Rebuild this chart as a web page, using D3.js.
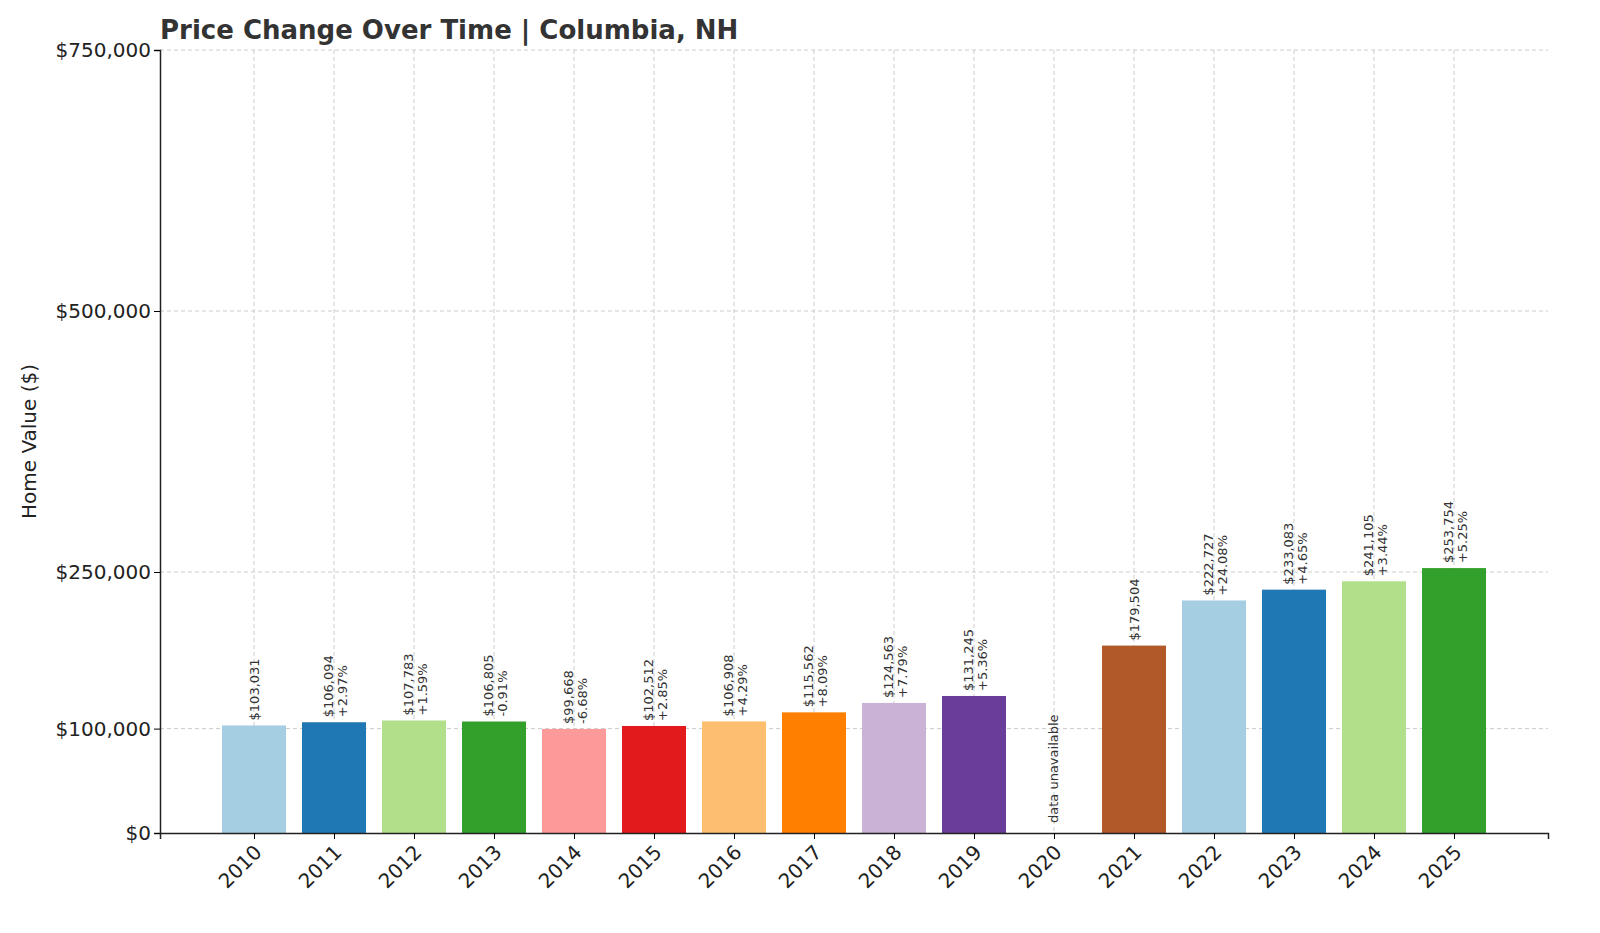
<!DOCTYPE html>
<html><head><meta charset="utf-8">
<script src="https://cdn.jsdelivr.net/npm/d3@7"></script>
<style>body{margin:0;background:#fff;font-family:"DejaVu Sans",sans-serif}</style>
</head><body><div id="chart"></div>
<script>
const years = ["2010","2011","2012","2013","2014","2015","2016","2017","2018","2019","2020","2021","2022","2023","2024","2025"];
const values = [103031,106094,107783,106805,99668,102512,106908,115562,124563,131245,null,179504,222727,233083,241105,253754];
const changes = [null,"+2.97%","+1.59%","-0.91%","-6.68%","+2.85%","+4.29%","+8.09%","+7.79%","+5.36%",null,null,"+24.08%","+4.65%","+3.44%","+5.25%"];
const yTicks = [0,100000,250000,500000,750000];
const palette = ["#a6cee3","#1f78b4","#b2df8a","#33a02c","#fb9a99","#e31a1c","#fdbf6f","#ff7f00","#cab2d6","#6a3d9a","#ffff99","#b15928"];

const W = 1600, H = 933, mLeft = 160, mRight = 1548, mTop = 50, mBottom = 833;
const svg = d3.select("#chart").append("svg").attr("width", W).attr("height", H);

const x = d3.scaleLinear().domain([-1.175, 16.175]).range([mLeft, mRight]);
const y = d3.scaleLinear().domain([0, 750000]).range([mBottom, mTop]);
const fmt = d3.format("$,");
const idx = d3.range(years.length);

// grid
svg.append("g").selectAll("line").data(yTicks.slice(1)).join("line")
    .attr("x1", mLeft).attr("x2", mRight).attr("y1", d => y(d)).attr("y2", d => y(d))
    .attr("stroke", "#ccc").attr("stroke-dasharray", "4,3");
svg.append("g").selectAll("line").data(idx).join("line")
    .attr("x1", i => x(i)).attr("x2", i => x(i)).attr("y1", mTop).attr("y2", mBottom)
    .attr("stroke", "#ccc").attr("stroke-dasharray", "4,3");

// bars
svg.append("g").selectAll("rect").data(idx.filter(i => values[i] != null)).join("rect")
    .attr("x", i => x(i) - 32).attr("width", 64)
    .attr("y", i => y(values[i])).attr("height", i => mBottom - y(values[i]))
    .attr("fill", i => palette[i % 12]);

// labels
values.forEach((v, i) => {
    const cx = x(i);
    if (v == null) {
        svg.append("text").attr("transform", `translate(${cx + 4},${mBottom - 10}) rotate(-90)`)
            .attr("font-size", 13).attr("fill", "#333").text("data unavailable");
        return;
    }
    const t = svg.append("text").attr("transform", `translate(${cx},${y(v) - 5}) rotate(-90)`)
        .attr("font-size", 13).attr("fill", "#333");
    if (changes[i]) {
        t.append("tspan").attr("x", 0).attr("dy", "-0.1em").text(fmt(v));
        t.append("tspan").attr("x", 0).attr("dy", "1.1em").text(changes[i]);
    } else {
        t.append("tspan").attr("x", 0).attr("dy", "0.35em").text(fmt(v));
    }
});

// axes
const ya = svg.append("g").attr("transform", `translate(${mLeft},0)`)
    .call(d3.axisLeft(y).tickValues(yTicks).tickFormat(fmt).tickSize(6));
ya.selectAll("text").attr("font-size", 20).attr("fill", "#222").attr("font-family", "DejaVu Sans");
ya.select(".domain").attr("stroke", "#222").attr("stroke-width", 1.5);

const xa = svg.append("g").attr("transform", `translate(0,${mBottom})`)
    .call(d3.axisBottom(x).tickValues(idx).tickFormat(i => years[i]).tickSize(6));
xa.select(".domain").attr("stroke", "#222").attr("stroke-width", 1.5);
xa.selectAll("text").attr("font-size", 20).attr("fill", "#222").attr("font-family", "DejaVu Sans")
    .attr("text-anchor", "end").attr("dy", "0.3em")
    .attr("transform", "translate(-2,10) rotate(-45)");

svg.append("text").attr("x", 160).attr("y", 39).attr("font-size", 26).attr("font-weight", "bold")
    .attr("fill", "#333").text("Price Change Over Time | Columbia, NH");
svg.append("text").attr("transform", `translate(36,${(mTop + mBottom) / 2}) rotate(-90)`)
    .attr("text-anchor", "middle").attr("font-size", 20).attr("fill", "#222").text("Home Value ($)");
</script></body></html>
